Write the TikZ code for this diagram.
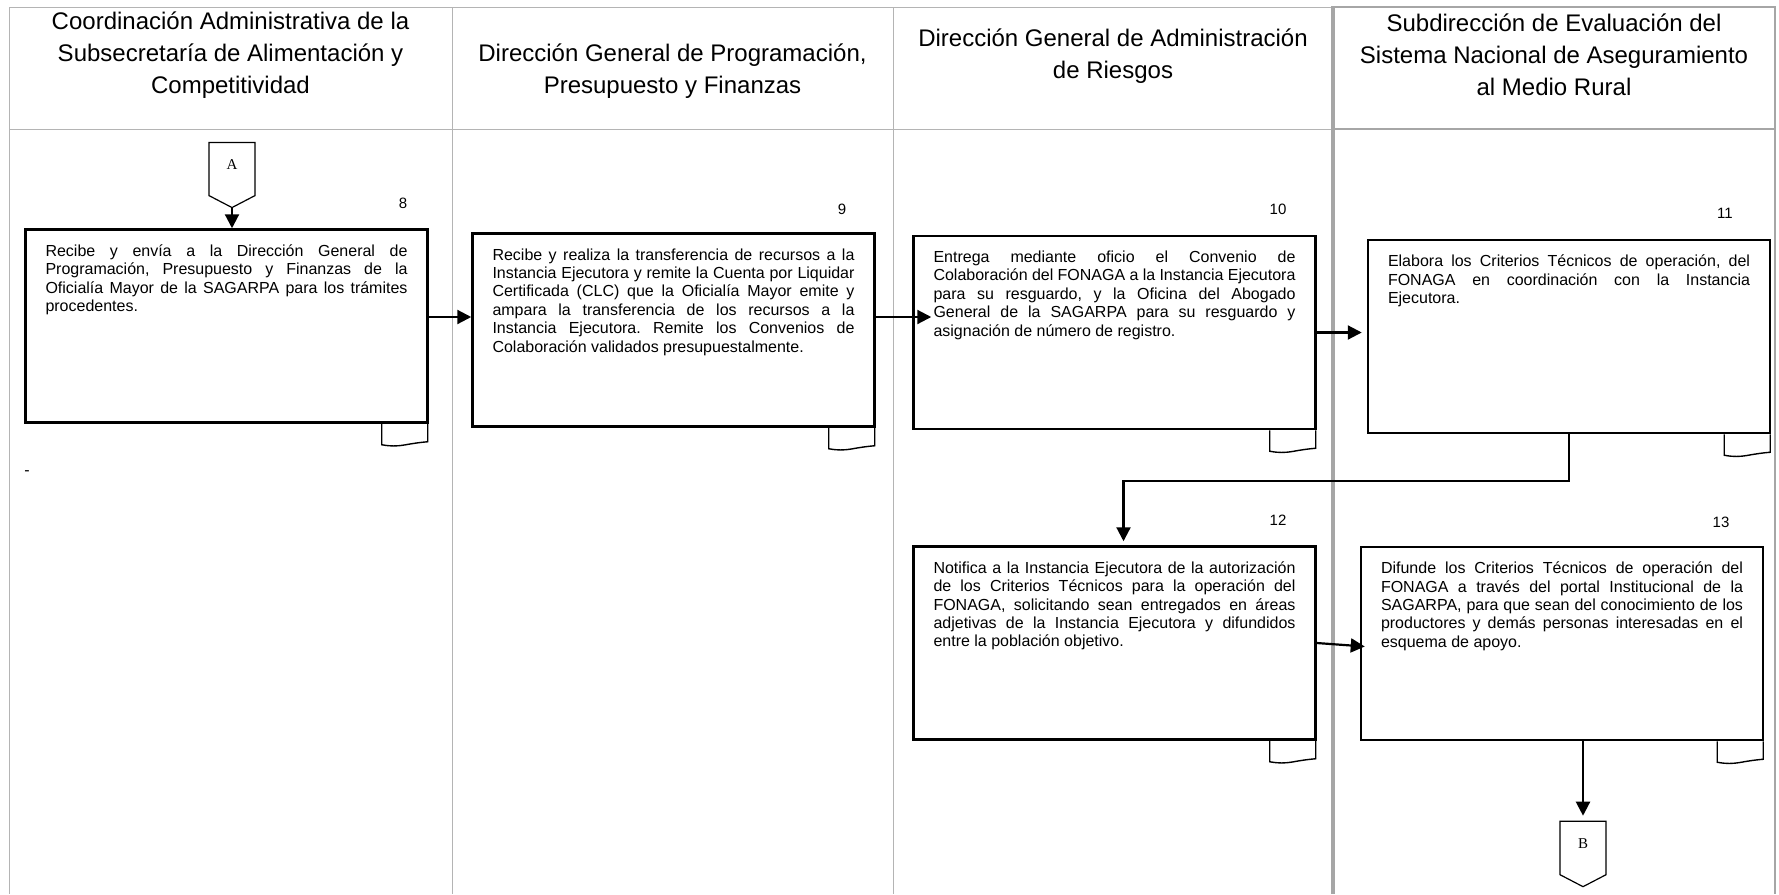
\documentclass[tikz,border=0pt]{standalone}
\usepackage{fontspec}
\setmainfont{Liberation Sans}
\newfontfamily\letterfont{Liberation Serif}
\usetikzlibrary{shapes.symbols,arrows.meta}
\definecolor{lanegray}{HTML}{B4B4B4}
\definecolor{lanedark}{HTML}{A6A6A6}
\frenchspacing
\newcommand{\steptext}[1]{\parbox[c][163pt][t]{362pt}{\hbadness=10000 #1}}
\newcommand{\docfoot}[1]{\draw [docline] ([xshift=-47pt]#1.south east) -- ++(0,-21) to[out=-10,in=190] ++(24,0) to[out=10,in=185] ++(22,3) -- ([xshift=-1pt]#1.south east);}

\begin{document}
\begin{tikzpicture}[x=1pt,y=1pt]
\tikzstyle{every node}+=[inner sep=0pt]
\tikzstyle{lane}=[draw=lanegray, line width=0.8pt]
\tikzstyle{lanethick}=[draw=lanedark, line width=2pt]
\tikzstyle{head}=[align=center, font=\fontsize{24}{32}\selectfont]
\tikzstyle{box}=[draw, line width=2.5pt, inner xsep=20pt, inner ysep=15pt, font=\fontsize{16}{18.4}\selectfont]
\tikzstyle{num}=[font=\fontsize{15}{18}\selectfont]
\tikzstyle{offpage}=[draw, line width=1.2pt, shape=signal, signal to=south, signal pointer angle=125, minimum width=46pt, minimum height=56pt, font=\letterfont\fontsize{15}{15}\selectfont]
\tikzstyle{flow}=[draw, line width=2.2pt, -{Triangle[length=14pt,width=14pt]}]
\tikzstyle{docline}=[draw, line width=1.4pt]
\useasboundingbox (0,0) rectangle (1779,-894);
\draw [lane] (9,-7) -- (1333,-7);
\draw [lane] (9,-129) -- (1333,-129);
\draw [lane] (9,-7) -- (9,-894);
\draw [lane] (452,-7) -- (452,-894);
\draw [lane] (893,-7) -- (893,-894);
\draw [lanethick] (1333,-7) -- (1775,-7);
\draw [lanethick] (1333,-129) -- (1775,-129);
\draw [lanethick, line width=3.2pt] (1333,-6) -- (1333,-894);
\draw [lanethick] (1775,-6) -- (1775,-894);
\node [head] (h1) at (230.5,-55) {Coordinación Administrativa de la\\Subsecretaría de Alimentación y\\Competitividad};
\node [head] (h2) at (672.5,-71) {Dirección General de Programación,\\Presupuesto y Finanzas};
\node [head] (h3) at (1113,-56) {Dirección General de Administración\\de Riesgos};
\node [head] (h4) at (1554,-55) {Subdirección de Evaluación del\\Sistema Nacional de Aseguramiento\\al Medio Rural};
\node [offpage] (A) at (232,-169) {\raisebox{8pt}{A}};
\node [num] (n8) at (403,-203) {8};
\node [box] (b8) at (226.5,-326) {\steptext{Recibe y envía a la Dirección General de\linebreak Programación, Presupuesto y Finanzas de la\linebreak Oficialía Mayor de la SAGARPA para los trámites\linebreak procedentes.}};
\docfoot{b8}
\node [num] (n9) at (842,-209) {9};
\node [box] (b9) at (673.5,-330) {\steptext{Recibe y realiza la transferencia de recursos a la\linebreak Instancia Ejecutora y remite la Cuenta por Liquidar\linebreak Certificada (CLC) que la Oficialía Mayor emite y\linebreak ampara la transferencia de los recursos a la\linebreak Instancia Ejecutora. Remite los Convenios de\linebreak Colaboración validados presupuestalmente.}};
\docfoot{b9}
\node [num] (n10) at (1278,-209) {10};
\node [box] (b10) at (1114.5,-332.5) {\steptext{Entrega mediante oficio el Convenio de\linebreak Colaboración del FONAGA a la Instancia Ejecutora\linebreak para su resguardo, y la Oficina del Abogado\linebreak General de la SAGARPA para su resguardo y\linebreak asignación de número de registro.}};
\docfoot{b10}
\node [num] (n11) at (1725,-213) {11};
\node [box] (b11) at (1569,-336.5) {\steptext{Elabora los Criterios Técnicos de operación, del\linebreak FONAGA en coordinación con la Instancia\linebreak Ejecutora.}};
\docfoot{b11}
\node [num] (n12) at (1278,-520) {12};
\node [box] (b12) at (1114.5,-643) {\steptext{Notifica a la Instancia Ejecutora de la autorización\linebreak de los Criterios Técnicos para la operación del\linebreak FONAGA, solicitando sean entregados en áreas\linebreak adjetivas de la Instancia Ejecutora y difundidos\linebreak entre la población objetivo.}};
\docfoot{b12}
\node [num] (n13) at (1721,-522) {13};
\node [box] (b13) at (1562,-643.5) {\steptext{Difunde los Criterios Técnicos de operación del\linebreak FONAGA a través del portal Institucional de la\linebreak SAGARPA, para que sean del conocimiento de los\linebreak productores y demás personas interesadas en el\linebreak esquema de apoyo.}};
\docfoot{b13}
\node [offpage] (B) at (1583,-848) {\raisebox{8pt}{B}};
\node [font=\fontsize{16}{18}\selectfont] (dash) at (27,-473) {-};
\coordinate (o8) at ([yshift=9pt]b8.east);
\coordinate (o9) at ([yshift=13pt]b9.east);
\coordinate (t12) at ([xshift=9pt]b12.north);
\draw [flow] (A.south) -- (A.south |- b8.north);
\draw [flow] (o8) -- (o8 -| b9.west);
\draw [flow] (o9) -- (o9 -| b10.west) -- ++(19,0);
\draw [flow, shorten >=5pt] (b10.east) -- (b10.east -| b11.west);
\draw [flow, shorten >=4pt] (b11.south) -- ++(0,-47) -| (t12);
\draw [flow] (b12.east) -- ([xshift=5pt,yshift=-3pt]b13.west);
\draw [flow, shorten >=5pt] (B.north |- b13.south) -- (B.north);
\end{tikzpicture}
\end{document}
